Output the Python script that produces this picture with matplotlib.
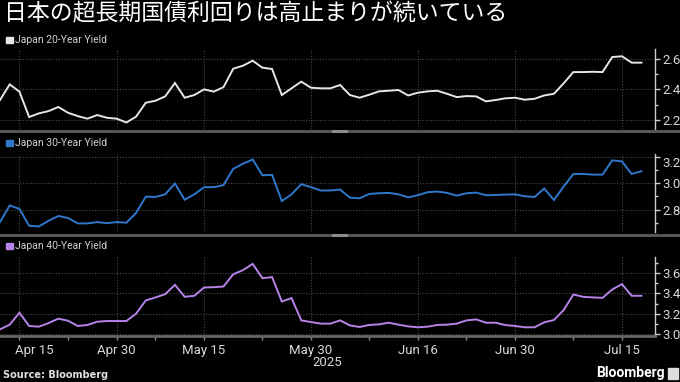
import matplotlib
matplotlib.use("Agg")
import matplotlib.pyplot as plt
import matplotlib.transforms as mtransforms
from matplotlib.lines import Line2D
from matplotlib.patches import Rectangle
import numpy as np
import pandas as pd

# trading days in Japan (weekends + Golden Week / Showa Day closed)
holidays = ["2025-04-29", "2025-05-05", "2025-05-06"]
dates = [d for d in pd.bdate_range("2025-04-11", "2025-07-17") if d.strftime("%Y-%m-%d") not in holidays]

yield_20y = [2.330, 2.433, 2.385, 2.218, 2.242, 2.257, 2.284, 2.246, 2.224, 2.207,
             2.231, 2.213, 2.207, 2.182, 2.220, 2.312, 2.325, 2.354, 2.442, 2.345,
             2.363, 2.400, 2.385, 2.415, 2.536, 2.556, 2.589, 2.543, 2.534, 2.363,
             2.407, 2.451, 2.411, 2.407, 2.407, 2.429, 2.363, 2.345, 2.365, 2.387,
             2.391, 2.396, 2.360, 2.378, 2.387, 2.391, 2.371, 2.349, 2.356, 2.354,
             2.321, 2.330, 2.341, 2.345, 2.332, 2.338, 2.360, 2.371, 2.440, 2.514,
             2.514, 2.516, 2.514, 2.613, 2.618, 2.576, 2.576]
yield_30y = [2.705, 2.831, 2.805, 2.677, 2.672, 2.715, 2.751, 2.736, 2.695, 2.695,
             2.705, 2.697, 2.705, 2.700, 2.774, 2.897, 2.895, 2.915, 2.997, 2.874,
             2.915, 2.969, 2.969, 2.985, 3.108, 3.146, 3.179, 3.059, 3.062, 2.864,
             2.915, 2.992, 2.969, 2.944, 2.944, 2.951, 2.890, 2.885, 2.918, 2.923,
             2.926, 2.915, 2.892, 2.908, 2.931, 2.936, 2.926, 2.905, 2.923, 2.928,
             2.908, 2.910, 2.913, 2.915, 2.900, 2.895, 2.959, 2.872, 2.974, 3.069,
             3.069, 3.064, 3.064, 3.172, 3.164, 3.069, 3.090]
yield_40y = [3.046, 3.092, 3.210, 3.079, 3.072, 3.108, 3.151, 3.131, 3.079, 3.089,
             3.121, 3.128, 3.128, 3.128, 3.200, 3.331, 3.361, 3.393, 3.485, 3.367,
             3.377, 3.459, 3.462, 3.469, 3.590, 3.630, 3.692, 3.551, 3.561, 3.321,
             3.354, 3.134, 3.118, 3.102, 3.102, 3.134, 3.085, 3.069, 3.089, 3.095,
             3.111, 3.092, 3.075, 3.066, 3.072, 3.089, 3.092, 3.102, 3.134, 3.144,
             3.111, 3.111, 3.088, 3.079, 3.066, 3.066, 3.115, 3.138, 3.236, 3.390,
             3.367, 3.361, 3.357, 3.439, 3.492, 3.377, 3.377]

tick_dates = ["2025-04-15", "2025-04-30", "2025-05-15", "2025-05-30", "2025-06-16", "2025-06-30", "2025-07-15"]
tick_labels = ["Apr 15", "Apr 30", "May 15", "May 30", "Jun 16", "Jun 30", "Jul 15"]
minor_dates = ["2025-04-22", "2025-05-08", "2025-05-23", "2025-06-09", "2025-06-23", "2025-07-08"]

names = ["Japan 20-Year Yield", "Japan 30-Year Yield", "Japan 40-Year Yield"]
colors = ["#e6e6e6", "#2f78cc", "#b684e8"]

date_str = [d.strftime("%Y-%m-%d") for d in dates]
x = np.arange(len(dates))
major_x = [date_str.index(d) for d in tick_dates]
minor_x = [date_str.index(d) for d in minor_dates]

W, H = 680, 382
fig = plt.figure(figsize=(6.8, 3.82), dpi=100, facecolor="black")

def px_box(top, bottom, right=655):
    return [0, 1 - bottom / H, right / W, (bottom - top) / H]

panels = [
    (yield_20y, px_box(49, 129), (2.139, 2.666), [2.2, 2.4, 2.6], [2.3, 2.5], 40),
    (yield_30y, px_box(154, 232), (2.63, 3.22), [2.8, 3.0, 3.2], [2.7, 2.9, 3.1], 143),
    (yield_40y, px_box(257, 336), (2.98, 3.76), [3.0, 3.2, 3.4, 3.6], [3.1, 3.3, 3.5, 3.7], 246),
]

tick_font = dict(family="Roboto", size=9.5, color="#d8d8d8")
grid_col = "#4a4a4a"

axes = []
for k, (vals, box, ylim, yt, ymin, leg_y) in enumerate(panels):
    ax = fig.add_axes(box)
    ax.set_facecolor("black")
    ax.plot(x, vals, color=colors[k], lw=1.4, solid_joinstyle="miter")
    ax.set_xlim(0, 67.4)
    ax.set_ylim(*ylim)

    ax.yaxis.tick_right()
    ax.set_yticks(yt)
    ax.set_yticks(ymin, minor=True)
    ax.set_yticklabels([f"{v:.1f}" for v in yt], fontfamily="Roboto", fontsize=9.5, color="#d8d8d8")
    ax.tick_params(axis="y", which="major", length=3.5, width=1, color="#cccccc", pad=2)
    ax.tick_params(axis="y", which="minor", length=2, width=1, color="#cccccc")

    ax.set_xticks(major_x)
    ax.set_xticks(minor_x, minor=True)
    ax.grid(True, which="major", color=grid_col, linestyle=(0, (1, 1.5)), lw=0.8)

    for s in ["left", "top"]:
        ax.spines[s].set_visible(False)
    ax.spines["right"].set_color("#cccccc")
    ax.spines["right"].set_linewidth(1)
    ax.spines["bottom"].set_visible(False)

    # legend entry above each panel
    fig.patches.append(Rectangle((6 / W, 1 - (leg_y + 3.2) / H), 6.5 / W, 6.5 / H,
                                 transform=fig.transFigure, color=colors[k], figure=fig))
    fig.text(15 / W, 1 - leg_y / H, names[k], fontfamily="Roboto", fontsize=7.5,
             color="#d0d0d0", va="center", ha="left")
    axes.append(ax)

# x axis only on the bottom panel
for ax in axes[:2]:
    ax.tick_params(axis="x", which="both", length=0, labelbottom=False)

ax3 = axes[2]
ax3.spines["bottom"].set_visible(True)
ax3.spines["bottom"].set_color("#666666")
ax3.spines["bottom"].set_linewidth(2)
ax3.set_xticklabels(tick_labels, fontfamily="Roboto", fontsize=9.5, color="#d8d8d8")
ax3.tick_params(axis="x", which="major", length=3, width=1, color="#888888", pad=3)
ax3.tick_params(axis="x", which="minor", length=3, width=1, color="#888888")
shift = mtransforms.ScaledTranslation(-4 / 100, 0, fig.dpi_scale_trans)
first = ax3.get_xticklabels()[0]
first.set_ha("left")
first.set_transform(first.get_transform() + shift)

# top label of 30y panel sits below its tick
axes[1].get_yticklabels()[-1].set_va("top")

fig.text(327 / W, 1 - 362 / H, "2025", fontfamily="Roboto", fontsize=9.5,
         color="#d8d8d8", ha="center", va="center")

# grey separators between panels
for y_sep in [131, 235]:
    fig.lines.append(Line2D([0, 1], [1 - y_sep / H] * 2, transform=fig.transFigure,
                            color="#555555", lw=2.2))
    fig.lines.append(Line2D([333 / W, 346 / W], [1 - y_sep / H] * 2, transform=fig.transFigure,
                            color="#8a8a8a", lw=2.2))

fig.text(4 / W, 1 - 14 / H, "日本の超長期国債利回りは高止まりが続いている",
         fontfamily=["Noto Sans CJK JP", "DejaVu Sans"], fontsize=16.5, color="white",
         ha="left", va="center")

fig.text(3 / W, 1 - 375 / H, "Source: Bloomberg", fontfamily="DejaVu Sans", fontweight="bold",
         fontsize=7, color="#e0e0e0", ha="left", va="center")
fig.text(665 / W, 1 - 373 / H, "Bloomberg", fontfamily="Roboto", fontweight="bold",
         fontsize=10, color="white", ha="right", va="center")
fig.patches.append(Rectangle((668 / W, 1 - 379 / H), 10 / W, 11 / H,
                             transform=fig.transFigure, color="#dddddd", figure=fig))

fig.savefig("out.png", dpi=100, facecolor="black")
